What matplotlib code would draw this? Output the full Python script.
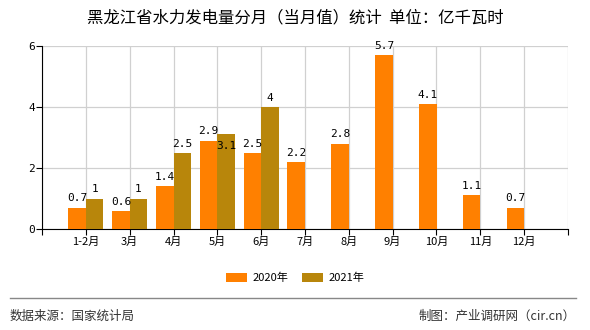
import matplotlib
matplotlib.use("Agg")
import matplotlib.pyplot as plt
from matplotlib.patches import Patch
from matplotlib.lines import Line2D

plt.rcParams['font.family'] = ['Noto Sans CJK SC', 'DejaVu Sans']

categories = ['1-2月', '3月', '4月', '5月', '6月', '7月', '8月', '9月', '10月', '11月', '12月']
v2020 = [0.7, 0.6, 1.4, 2.9, 2.5, 2.2, 2.8, 5.7, 4.1, 1.1, 0.7]
v2021 = [1, 1, 2.5, 3.1, 4]
series_names = ['2020年', '2021年']
yticks = [0, 2, 4, 6]

c2020 = '#FF8000'
c2021 = '#B8860B'

fig = plt.figure(figsize=(5.9, 3.3), dpi=100)
ax = fig.add_axes([42/590, 1-229/330, (568-42)/590, (229-46)/330])

w = 0.4
xs = list(range(1, len(categories)+1))
ax.bar([x - w/2 for x in xs], v2020, width=w, color=c2020, zorder=3)
ax.bar([x + w/2 for x in xs[:len(v2021)]], v2021, width=w, color=c2021, zorder=3)

lab_font = dict(family='DejaVu Sans Mono', fontsize=8, color='black', ha='center', va='bottom', zorder=4)
for x, v in zip(xs, v2020):
    ax.annotate(f'{v:g}', (x - w/2, v), xytext=(0, 3), textcoords='offset points', **lab_font)
for x, v in zip(xs, v2021):
    off = -12 if v == 3.1 else 3
    ax.annotate(f'{v:g}', (x + w/2, v), xytext=(0, off), textcoords='offset points', **lab_font)

ax.set_xlim(0, 12)
ax.set_ylim(0, 6)
ax.set_yticks(yticks)
ax.set_yticklabels([str(t) for t in yticks], fontsize=8, family='DejaVu Sans Mono')
ax.set_xticks(range(0, 13))
ax.set_xticklabels([''] + categories + [''], fontsize=8)
ax.grid(True, color='#d0d0d0', linewidth=0.9, zorder=0)
ax.spines['top'].set_visible(False)
ax.spines['right'].set_visible(False)
ax.spines['left'].set_color('black')
ax.spines['bottom'].set_color('black')
ax.tick_params(axis='both', length=4, width=0.8, color='black', pad=2)
ax.tick_params(axis='y', pad=1)

fig.text(0.5, 1-18/330, '黑龙江省水力发电量分月（当月值）统计  单位：亿千瓦时', ha='center', va='center', fontsize=11.8)

handles = [Patch(facecolor=c2020), Patch(facecolor=c2021)]
fig.legend(handles, series_names, loc='center', bbox_to_anchor=(0.5, 1-278/330), ncol=2,
           frameon=False, fontsize=8, handlelength=1.9, handleheight=0.9, columnspacing=1.2, handletextpad=0.5)

fig.add_artist(Line2D([10/590, 576/590], [1-298/330, 1-298/330], color='#888888', linewidth=1))
fig.text(10/590, 1-316/330, '数据来源：国家统计局', ha='left', va='center', fontsize=9, color='#333333')
fig.text(576/590, 1-316/330, '制图：产业调研网（cir.cn）', ha='right', va='center', fontsize=9, color='#333333')

fig.savefig('out.png', dpi=100)
